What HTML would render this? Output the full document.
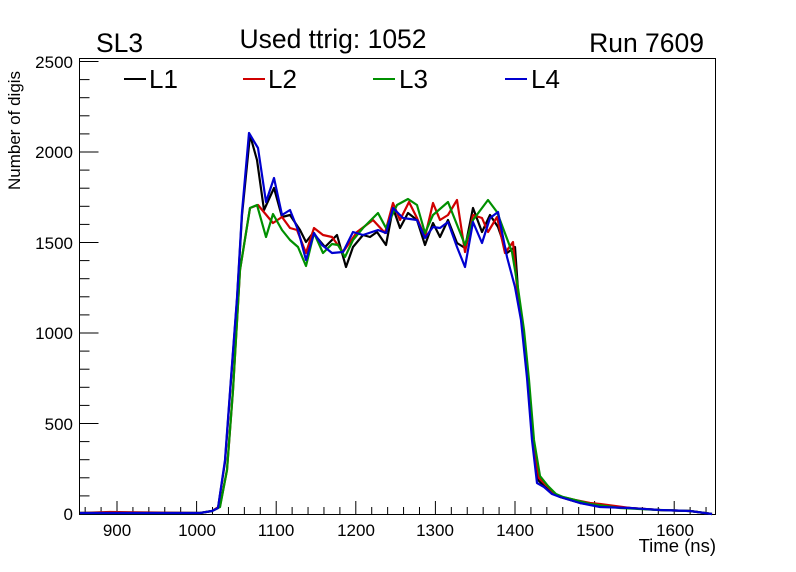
<!DOCTYPE html>
<html><head><meta charset="utf-8"><style>
body{margin:0;background:#fff}
svg{display:block;font-family:"Liberation Sans",sans-serif}
</style></head><body>
<svg width="796" height="572" viewBox="0 0 796 572" xmlns="http://www.w3.org/2000/svg">
<rect width="796" height="572" fill="#fff"/>
<rect x="79.5" y="58.5" width="636" height="456" fill="none" stroke="#000" stroke-width="1"/>
<g stroke="#000" stroke-width="1" id="ticks"></g>
<g font-size="17" text-anchor="end" fill="#000">
<text x="73" y="520">0</text><text x="73" y="430">500</text><text x="73" y="339">1000</text><text x="73" y="249">1500</text><text x="73" y="158">2000</text><text x="73" y="68">2500</text>
</g>
<g font-size="17" text-anchor="middle" fill="#000">
<text x="117" y="536">900</text><text x="197" y="536">1000</text><text x="276" y="536">1100</text><text x="356" y="536">1200</text><text x="435" y="536">1300</text><text x="515" y="536">1400</text><text x="595" y="536">1500</text><text x="675" y="536">1600</text>
</g>
<text x="716" y="552" font-size="18.5" text-anchor="end">Time (ns)</text>
<text transform="translate(20,190) rotate(-90)" font-size="17">Number of digis</text>
<text x="96" y="52" font-size="26.5">SL3</text>
<text x="333" y="48" font-size="26.5" text-anchor="middle">Used ttrig: 1052</text>
<text x="704" y="52" font-size="26.5" text-anchor="end">Run 7609</text>
<g font-size="26">
<line x1="124" y1="79" x2="146" y2="79" stroke="#000" stroke-width="2"/><text x="149" y="88">L1</text>
<line x1="243" y1="79" x2="265" y2="79" stroke="#d00000" stroke-width="2"/><text x="268" y="88">L2</text>
<line x1="373" y1="79" x2="395" y2="79" stroke="#009000" stroke-width="2"/><text x="399" y="88">L3</text>
<line x1="505" y1="79" x2="527" y2="79" stroke="#0000d0" stroke-width="2"/><text x="531" y="88">L4</text>
</g>
<g fill="none" stroke-width="2.2" stroke-linejoin="round">
<polyline stroke="#000" points="80,513 200,513 212,511 218,508 225,462 231,380 237,300 242,215 250,135 257,160 264,210 274,188 282,217 290,215 300,230 306,242 313,233 325,247 337,235 346,267 353,247 363,235 370,237 377,232 386,245 393,208 400,228 408,213 417,220 425,245 433,223 440,237 448,220 457,243 465,248 473,208 482,232 490,215 498,227 507,253 515,247 518,290 523,330 528,380 533,440 538,480 545,487 553,493 560,497 570,500 580,503 600,506 630,508 660,510 690,511 712,514"/>
<polyline stroke="#d00000" points="80,513 110,512 200,513 212,511 220,506 227,470 233,390 240,270 250,208 258,205 273,223 282,217 290,228 297,230 306,253 314,228 323,235 332,237 343,252 357,232 373,220 385,233 393,203 400,220 409,202 417,218 425,237 433,203 440,220 448,215 457,200 465,252 473,215 482,218 488,232 497,217 505,253 513,242 517,287 523,332 528,382 533,440 539,478 547,486 555,494 562,497 575,500 590,503 600,504 630,508 660,510 690,511 712,514"/>
<polyline stroke="#009000" points="80,513 200,513 212,511 220,507 227,470 233,390 240,270 250,208 257,205 266,237 273,214 282,230 290,240 298,247 306,266 314,233 323,253 332,244 338,245 345,257 353,240 363,228 378,213 386,228 397,205 408,199 417,205 425,233 433,215 448,202 465,245 473,220 488,200 497,212 512,252 518,288 524,330 529,380 534,440 540,476 548,486 556,494 563,497 575,500 590,504 620,508 660,510 690,511 712,514"/>
<polyline stroke="#0000d0" points="80,513 200,513 212,511 218,508 225,460 231,378 237,298 242,212 249,133 258,148 266,202 274,178 282,215 290,210 298,230 306,260 314,233 322,245 332,253 343,252 353,232 363,235 378,230 386,233 393,208 403,218 417,220 425,238 433,227 440,228 448,222 457,247 465,267 473,222 482,243 490,218 498,212 507,257 515,287 521,320 527,378 532,440 537,483 544,487 552,494 560,497 570,500 580,503 600,507 630,508 660,510 690,511 712,514"/>
</g>
</svg>
<script>
var g=document.getElementById('ticks'),s='';
for(var v=0;v<=2500;v+=100){var y=514-v*0.181;var L=(v%500==0)?19:10;s+='<line x1="79.5" y1="'+y+'" x2="'+(79.5+L)+'" y2="'+y+'"/>';}
for(var t=860;t<=1650;t+=20){var x=117+(t-900)*0.796;var L=(t%100==0)?13:7;s+='<line x1="'+x+'" y1="514" x2="'+x+'" y2="'+(514-L)+'"/>';}
g.innerHTML=s;
</script>
</body></html>
